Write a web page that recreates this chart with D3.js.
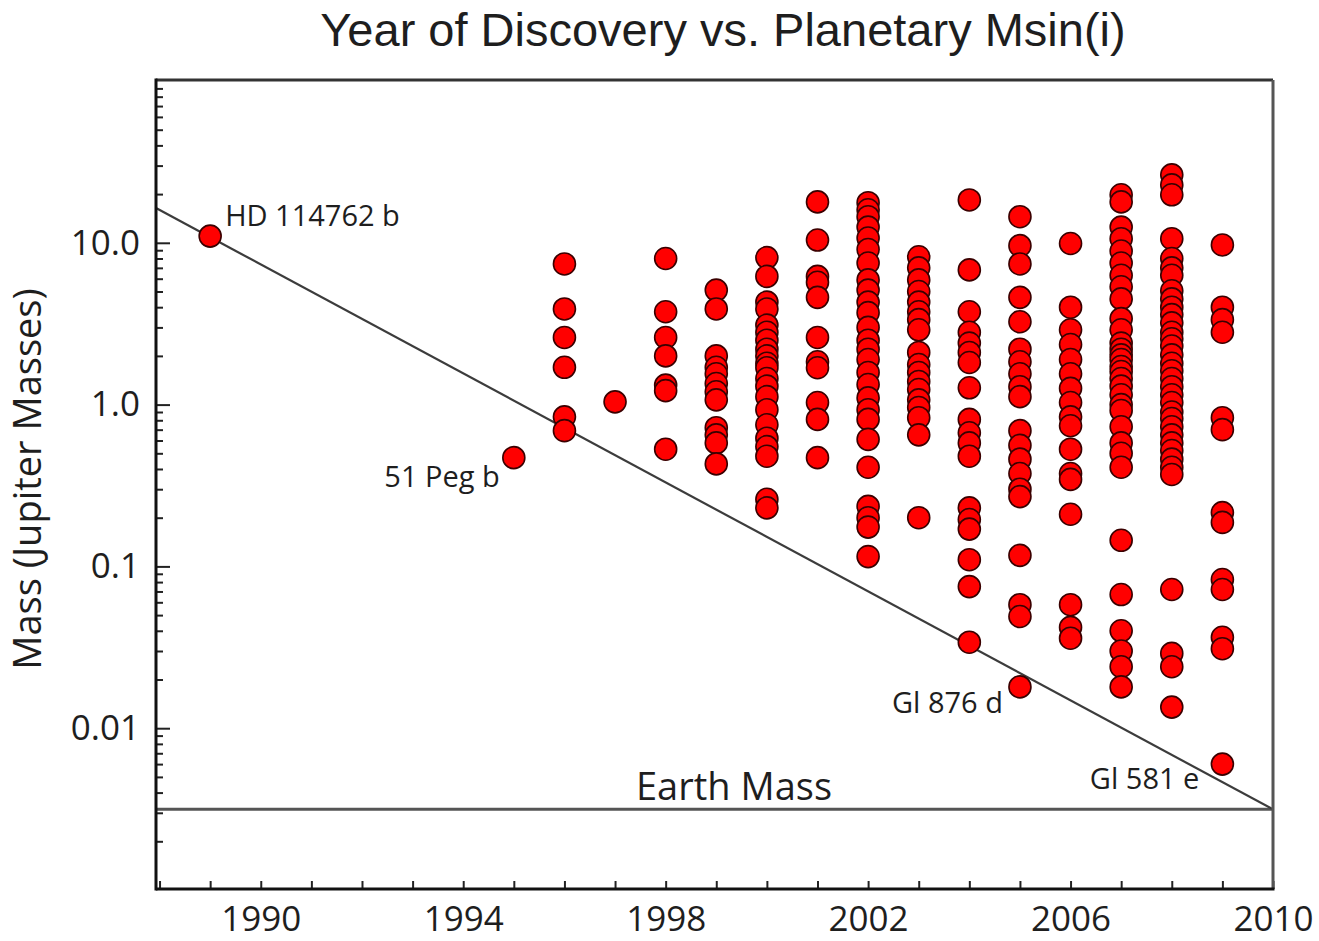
<!DOCTYPE html>
<html>
<head>
<meta charset="utf-8">
<script src="https://cdn.jsdelivr.net/npm/d3@7"></script>
<style>
  body { margin: 0; background: #fff; }
  svg { display: block; }
</style>
</head>
<body>
<svg id="chart" width="1319" height="941"></svg>
<script>
// ---------------- DATA ----------------
const mass1989 = [11.0];
const mass1995 = [0.47];
const mass1996 = [7.4, 3.9, 2.6, 1.7, 0.84, 0.69];
const mass1997 = [1.04];
const mass1998 = [8.0, 3.75, 2.6, 2.0, 1.32, 1.22, 0.53];
const mass1999 = [5.1, 3.9, 2.0, 1.7, 1.55, 1.35, 1.2, 1.07, 0.72, 0.65, 0.58, 0.43];
const mass2000 = [8.1, 6.2, 4.3, 3.9, 3.1, 2.8, 2.5, 2.2, 2.0, 1.8, 1.69, 1.45, 1.3, 1.12, 0.93, 0.75, 0.62, 0.55, 0.48, 0.26, 0.23];
const mass2001 = [17.9, 10.4, 6.2, 5.7, 4.6, 2.6, 1.84, 1.69, 1.03, 0.81, 0.47];
const mass2002 = [17.7, 16.0, 14.5, 12.5, 10.7, 9.1, 7.5, 5.9, 5.1, 4.3, 3.7, 3.0, 2.5, 2.2, 1.9, 1.58, 1.33, 1.10, 0.93, 0.81, 0.61, 0.41, 0.235, 0.2, 0.175, 0.115];
const mass2003 = [8.2, 7.0, 5.9, 5.0, 4.3, 3.75, 3.35, 2.9, 2.1, 1.77, 1.58, 1.39, 1.24, 1.07, 0.96, 0.83, 0.65, 0.20];
const mass2004 = [18.4, 6.8, 3.75, 2.8, 2.4, 2.1, 1.82, 1.27, 0.81, 0.67, 0.58, 0.48, 0.23, 0.195, 0.17, 0.11, 0.075, 0.034];
const mass2005 = [14.5, 9.6, 7.4, 4.6, 3.25, 2.2, 1.84, 1.55, 1.29, 1.12, 0.69, 0.56, 0.46, 0.375, 0.30, 0.27, 0.117, 0.058, 0.049, 0.018];
const mass2006 = [9.9, 4.0, 2.9, 2.35, 1.9, 1.55, 1.26, 1.03, 0.84, 0.74, 0.53, 0.375, 0.345, 0.21, 0.058, 0.042, 0.036];
const mass2007 = [19.8, 17.9, 12.5, 10.6, 8.9, 7.5, 6.3, 5.35, 4.5, 3.4, 2.9, 2.4, 2.2, 2.03, 1.9, 1.72, 1.6, 1.45, 1.3, 1.15, 1.0, 0.92, 0.73, 0.58, 0.5, 0.41, 0.145, 0.067, 0.040, 0.030, 0.024, 0.018];
const mass2008 = [26.3, 22.8, 19.8, 10.6, 8.0, 7.0, 6.3, 5.05, 4.5, 4.0, 3.6, 3.2, 2.8, 2.55, 2.3, 2.03, 1.8, 1.62, 1.45, 1.29, 1.15, 1.03, 0.9, 0.82, 0.73, 0.65, 0.58, 0.52, 0.46, 0.41, 0.37, 0.072, 0.029, 0.024, 0.0135];
const mass2009 = [9.7, 4.0, 3.35, 2.8, 0.83, 0.70, 0.215, 0.187, 0.083, 0.072, 0.0365, 0.031, 0.006];

const yearColumns = [
  [1989, mass1989], [1995, mass1995], [1996, mass1996], [1997, mass1997],
  [1998, mass1998], [1999, mass1999], [2000, mass2000], [2001, mass2001],
  [2002, mass2002], [2003, mass2003], [2004, mass2004], [2005, mass2005],
  [2006, mass2006], [2007, mass2007], [2008, mass2008], [2009, mass2009]
];

const xTickValues = [1990, 1994, 1998, 2002, 2006, 2010];
const yTickValues = [10, 1, 0.1, 0.01];
const yTickLabels = ["10.0", "1.0", "0.1", "0.01"];

const earthMass = 0.00315;
const trendLine = [{ year: 1987.93, mass: 16.4 }, { year: 2010, mass: 0.00315 }];

const annotationNames = ["HD 114762 b", "51 Peg b", "Gl 876 d", "Gl 581 e"];
const annotationYears = [1989, 1995, 2005, 2009];
const annotationMasses = [11.0, 0.47, 0.018, 0.006];

const titleText = "Year of Discovery vs. Planetary Msin(i)";
const yAxisTitle = "Mass (Jupiter Masses)";
const earthLabel = "Earth Mass";

// ---------------- LAYOUT ----------------
const FONT = "'Open Sans', 'Liberation Sans', sans-serif";
const TEXT = "#1e1e1e";
const plotLeft = 156, plotRight = 1273, plotTop = 80, plotBottom = 889;

const svg = d3.select("#chart");

const x = d3.scaleLinear().domain([1987.93, 2010]).range([plotLeft, plotRight]);
const y = d3.scaleLog().domain([0.001, 100]).range([890, 81]);

const points = yearColumns.flatMap(([yr, arr]) => arr.map(m => ({ year: yr, mass: m })));

// Earth mass line
svg.append("line")
  .attr("x1", plotLeft).attr("x2", plotRight)
  .attr("y1", y(earthMass)).attr("y2", y(earthMass))
  .attr("stroke", "#555").attr("stroke-width", 3);

// trend line
svg.append("path")
  .datum(trendLine)
  .attr("d", d3.line().x(d => x(d.year)).y(d => y(d.mass)))
  .attr("fill", "none").attr("stroke", "#3c3c3c").attr("stroke-width", 2.2);

// dots
svg.append("g").selectAll("circle")
  .data(points)
  .join("circle")
  .attr("cx", d => x(d.year))
  .attr("cy", d => y(d.mass))
  .attr("r", 11)
  .attr("fill", "#ff0000")
  .attr("stroke", "#3a0000")
  .attr("stroke-width", 1.6);

// x axis: minor yearly ticks (inside)
const xMinor = svg.append("g")
  .attr("transform", `translate(0,${plotBottom})`)
  .call(d3.axisBottom(x).tickValues(d3.range(1988, 2011)).tickSize(-8).tickFormat(""));
xMinor.select(".domain").remove();
xMinor.selectAll("line").attr("stroke", "#222").attr("stroke-width", 2);

// x axis labels
const xLab = svg.append("g")
  .attr("transform", `translate(0,${plotBottom})`)
  .call(d3.axisBottom(x).tickValues(xTickValues).tickFormat(d3.format("d")).tickSize(0).tickPadding(17));
xLab.select(".domain").remove();
xLab.selectAll("text").attr("font-family", FONT).attr("font-size", 35).attr("fill", TEXT);

// y axis minor ticks
const yMinorVals = y.ticks().filter(v => {
  const r = v / Math.pow(10, Math.floor(Math.log10(v) + 1e-9));
  return Math.round(r) !== 1;
});
const yMinor = svg.append("g")
  .attr("transform", `translate(${plotLeft},0)`)
  .call(d3.axisLeft(y).tickValues(yMinorVals).tickSize(-7).tickFormat(""));
yMinor.select(".domain").remove();
yMinor.selectAll("line").attr("stroke", "#222").attr("stroke-width", 2);

// y axis major ticks + labels
const yMaj = svg.append("g")
  .attr("transform", `translate(${plotLeft},0)`)
  .call(d3.axisLeft(y).tickValues(yTickValues)
    .tickFormat((d, i) => yTickLabels[i]).tickSize(-14).tickPadding(16));
yMaj.select(".domain").remove();
yMaj.selectAll("line").attr("stroke", "#222").attr("stroke-width", 2);
yMaj.selectAll("text").attr("font-family", FONT).attr("font-size", 35).attr("fill", TEXT);

// frame
svg.append("line").attr("x1", plotLeft).attr("x2", plotRight).attr("y1", plotTop).attr("y2", plotTop)
  .attr("stroke", "#333").attr("stroke-width", 3);
svg.append("line").attr("x1", plotRight).attr("x2", plotRight).attr("y1", plotTop).attr("y2", plotBottom)
  .attr("stroke", "#555").attr("stroke-width", 3);
svg.append("line").attr("x1", plotLeft).attr("x2", plotLeft).attr("y1", plotTop - 1.5).attr("y2", plotBottom + 1.5)
  .attr("stroke", "#111").attr("stroke-width", 3);
svg.append("line").attr("x1", plotLeft).attr("x2", plotRight + 1.5).attr("y1", plotBottom).attr("y2", plotBottom)
  .attr("stroke", "#111").attr("stroke-width", 3);

// title
svg.append("text")
  .attr("x", 723).attr("y", 46)
  .attr("text-anchor", "middle")
  .attr("font-family", "'Liberation Sans', Arial, sans-serif").attr("font-size", 47).attr("fill", TEXT)
  .text(titleText);

// y axis title
svg.append("text")
  .attr("transform", `translate(41,479) rotate(-90)`)
  .attr("text-anchor", "middle")
  .attr("font-family", FONT).attr("font-size", 38).attr("fill", TEXT)
  .text(yAxisTitle);

// Earth Mass label
svg.append("text")
  .attr("x", 734).attr("y", y(earthMass) - 9)
  .attr("text-anchor", "middle")
  .attr("font-family", FONT).attr("font-size", 38).attr("fill", TEXT)
  .text(earthLabel);

// annotations
const annOffsets = [[15, -10, "start"], [-14, 29, "end"], [-17, 26, "end"], [-23, 25, "end"]];
svg.append("g").selectAll("text")
  .data(annotationNames)
  .join("text")
  .attr("x", (d, i) => x(annotationYears[i]) + annOffsets[i][0])
  .attr("y", (d, i) => y(annotationMasses[i]) + annOffsets[i][1])
  .attr("text-anchor", (d, i) => annOffsets[i][2])
  .attr("font-family", FONT).attr("font-size", 29).attr("fill", TEXT)
  .text(d => d);
</script>
</body>
</html>
